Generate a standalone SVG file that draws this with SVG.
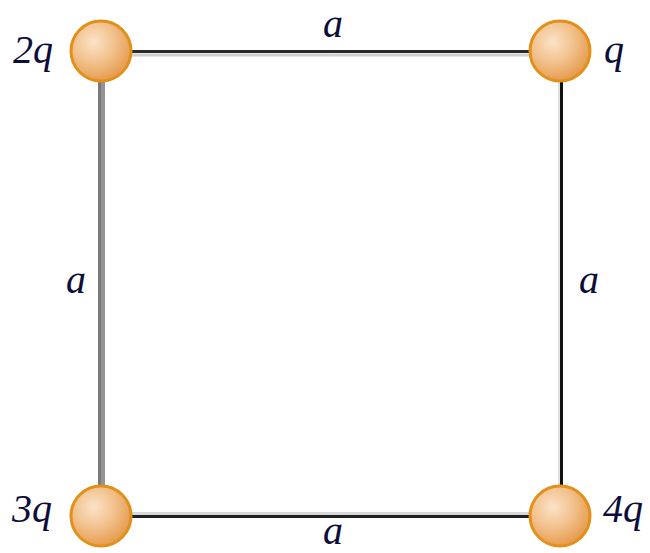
<svg xmlns="http://www.w3.org/2000/svg" width="650" height="553" viewBox="0 0 650 553">
<style>
.lbl{font-family:"Liberation Serif","DejaVu Serif",serif;font-style:italic;font-size:40px;fill:#0d0d3a}
.ball{fill:url(#g);stroke:#e2901a;stroke-width:3}
</style>
<defs>
<radialGradient id="g" cx="0.38" cy="0.35" r="0.7">
<stop offset="0" stop-color="#fbe3c8"/>
<stop offset="0.5" stop-color="#f2c18c"/>
<stop offset="1" stop-color="#e49848"/>
</radialGradient>
</defs>
<rect width="650" height="553" fill="#fff"/>
<g id="connectors">
<line x1="101" y1="55" x2="560" y2="55" stroke="#d0d0d0" stroke-width="3"/>
<line x1="101" y1="51.5" x2="560" y2="51.5" stroke="#2a2a2a" stroke-width="3"/>
<line x1="103" y1="51" x2="103" y2="516" stroke="#949494" stroke-width="4"/>
<line x1="99.5" y1="51" x2="99.5" y2="516" stroke="#7a7a7a" stroke-width="3"/>
<line x1="559" y1="51" x2="559" y2="516" stroke="#e0e0e0" stroke-width="2"/>
<line x1="561.5" y1="51" x2="561.5" y2="516" stroke="#111" stroke-width="3"/>
<line x1="101" y1="513.5" x2="560" y2="513.5" stroke="#d8d8d8" stroke-width="3"/>
<line x1="101" y1="516.5" x2="560" y2="516.5" stroke="#222" stroke-width="3"/>
</g>
<g id="label-top"><text class="lbl" x="333" y="37" text-anchor="middle">a</text></g>
<g id="label-left"><text class="lbl" x="76" y="293" text-anchor="middle">a</text></g>
<g id="label-right"><text class="lbl" x="589" y="293" text-anchor="middle">a</text></g>
<g id="label-bottom"><text class="lbl" x="333" y="544" text-anchor="middle">a</text></g>
<g id="node-2q">
<circle class="ball" cx="101" cy="51" r="30"/>
<text class="lbl" x="13" y="63">2q</text>
</g>
<g id="node-q">
<circle class="ball" cx="560" cy="51" r="30"/>
<text class="lbl" x="604" y="63">q</text>
</g>
<g id="node-3q">
<circle class="ball" cx="101" cy="516" r="30"/>
<text class="lbl" x="12" y="522">3q</text>
</g>
<g id="node-4q">
<circle class="ball" cx="560" cy="516" r="30"/>
<text class="lbl" x="603" y="522">4q</text>
</g>
</svg>
